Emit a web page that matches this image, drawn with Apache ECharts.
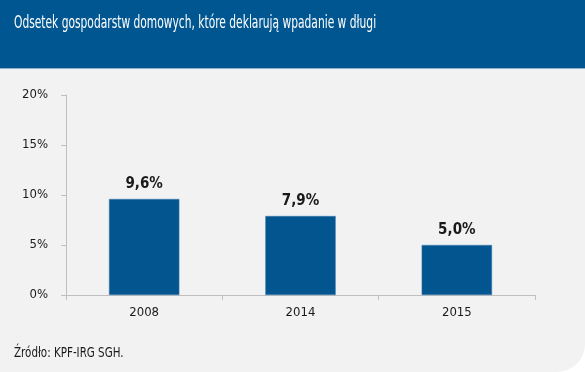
<!DOCTYPE html>
<html><head><meta charset="utf-8">
<script src="https://cdn.jsdelivr.net/npm/echarts@6/dist/echarts.min.js"></script>
<style>html,body{margin:0;padding:0;background:#fff;}#c{width:585px;height:372px;}</style>
</head><body><div id="c"></div>
<script>
const title = 'Odsetek gospodarstw domowych, które deklarują wpadanie w długi';
const source = 'Źródło: KPF-IRG SGH.';
const categories = ['2008', '2014', '2015'];
const values = [9.6, 7.9, 5.0];
const yTicks = [0, 5, 10, 15, 20];

const FONT = "'DejaVu Sans Condensed','Liberation Sans Narrow',sans-serif";
const chart = echarts.init(document.getElementById('c'), null, {renderer: 'canvas'});
chart.setOption({
  backgroundColor: '#ffffff',
  animation: false,
  graphic: [
    {type: 'rect', z: -10, shape: {x: 0, y: 0, width: 585, height: 372, r: [0, 0, 28, 0]}, style: {fill: '#f2f2f2'}},
    {type: 'rect', z: -9, shape: {x: 0, y: 0, width: 585, height: 68}, style: {fill: '#005691'}},
    {type: 'rect', z: -9, shape: {x: 0, y: 68, width: 585, height: 1}, style: {fill: '#8fb2cc'}},
    {type: 'text', x: 14, y: 14, scaleX: 0.66, style: {text: title, fill: '#ffffff', font: '18px ' + FONT}},
    {type: 'text', x: 14, y: 346, scaleX: 0.82, style: {text: source, fill: '#1a1a1a', font: '14px ' + FONT}}
  ],
  grid: {left: 66, right: 50, top: 95, bottom: 77, containLabel: false},
  xAxis: {
    type: 'category', data: categories,
    axisLine: {lineStyle: {color: '#bfbfbf', width: 1}},
    axisTick: {show: true, length: 5, lineStyle: {color: '#bfbfbf'}},
    axisLabel: {color: '#1a1a1a', fontSize: 13, fontFamily: FONT, margin: 11}
  },
  yAxis: {
    type: 'value', min: yTicks[0], max: yTicks[yTicks.length - 1], interval: 5,
    axisLine: {show: true, lineStyle: {color: '#bfbfbf'}},
    axisTick: {show: true, length: 5, lineStyle: {color: '#bfbfbf'}},
    splitLine: {show: false},
    axisLabel: {color: '#1a1a1a', fontSize: 13, fontFamily: FONT, margin: 18, formatter: v => v + '%'}
  },
  series: [{
    type: 'bar', data: values, barWidth: '45%',
    itemStyle: {color: '#03558f', borderColor: '#3f7db0', borderWidth: 0.5},
    label: {show: true, position: 'top', distance: 7, color: '#1a1a1a', fontSize: 15, fontWeight: 'bold', fontFamily: FONT,
      formatter: p => p.value.toFixed(1).replace('.', ',') + '%'}
  }]
});
</script></body></html>
